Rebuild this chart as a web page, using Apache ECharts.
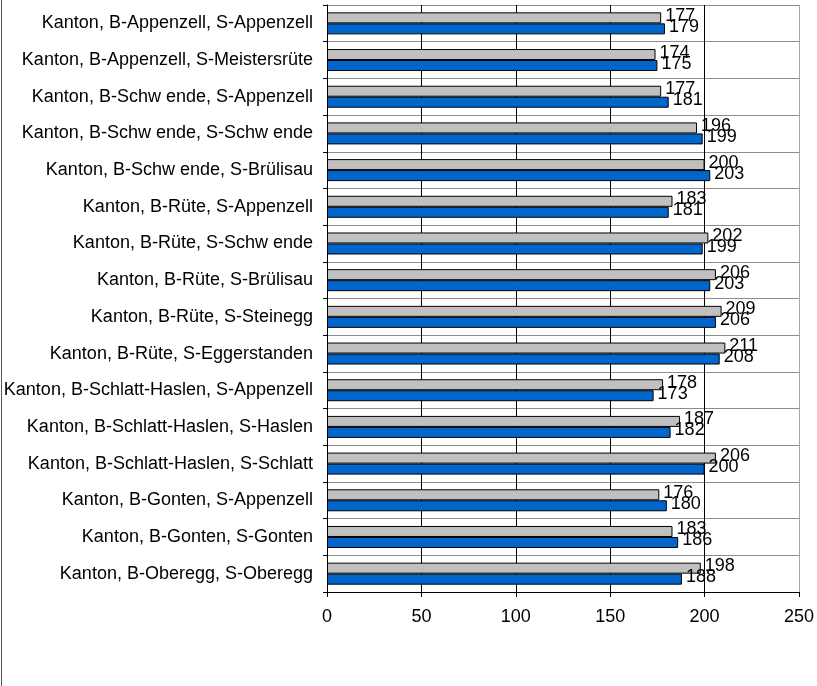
<!DOCTYPE html>
<html lang="en">
<head>
	<meta charset="UTF-8">
	<title>Kanton</title>
	<style>
		html, body { margin: 0; padding: 0; background: #fff; }
	</style>
</head>
<body>
	<div id="bar_one" style="width:817px;height:686px;"></div>
<script src="https://cdn.jsdelivr.net/npm/echarts@6/dist/echarts.min.js"></script>
<script>
	// Kategorien von oben nach unten
	var categories = [
		'Kanton, B-Appenzell, S-Appenzell',
		'Kanton, B-Appenzell, S-Meistersrüte',
		'Kanton, B-Schw ende, S-Appenzell',
		'Kanton, B-Schw ende, S-Schw ende',
		'Kanton, B-Schw ende, S-Brülisau',
		'Kanton, B-Rüte, S-Appenzell',
		'Kanton, B-Rüte, S-Schw ende',
		'Kanton, B-Rüte, S-Brülisau',
		'Kanton, B-Rüte, S-Steinegg',
		'Kanton, B-Rüte, S-Eggerstanden',
		'Kanton, B-Schlatt-Haslen, S-Appenzell',
		'Kanton, B-Schlatt-Haslen, S-Haslen',
		'Kanton, B-Schlatt-Haslen, S-Schlatt',
		'Kanton, B-Gonten, S-Appenzell',
		'Kanton, B-Gonten, S-Gonten',
		'Kanton, B-Oberegg, S-Oberegg'
	];
	var greyValues = [177, 174, 177, 196, 200, 183, 202, 206, 209, 211, 178, 187, 206, 176, 183, 198];
	var blueValues = [179, 175, 181, 199, 203, 181, 199, 203, 206, 208, 173, 182, 200, 180, 186, 188];
	var xTicks = [0, 50, 100, 150, 200, 250];

	var font = '"Liberation Sans", Arial, sans-serif';

	var myChart = echarts.init(document.getElementById('bar_one'));

	function barLabel() {
		return {
			show: true,
			position: 'right',
			distance: 4,
			offset: [0, -2],
			color: '#000',
			fontFamily: font,
			fontSize: 18
		};
	}

	var option = {
		animation: false,
		backgroundColor: '#fff',
		grid: {
			left: 327,
			right: 18,
			top: 5,
			bottom: 94,
			containLabel: false
		},
		xAxis: {
			type: 'value',
			min: xTicks[0],
			max: xTicks[xTicks.length - 1],
			interval: 50,
			axisLine: { show: true, lineStyle: { color: '#000', width: 1 } },
			axisTick: { show: true, length: 5, lineStyle: { color: '#000' } },
			axisLabel: {
				margin: 16,
				color: '#000',
				fontFamily: font,
				fontSize: 18
			},
			splitLine: {
				show: true,
				lineStyle: {
					// letzte Linie (250) ist der graue Rand
					color: ['#000', '#000', '#000', '#000', '#000', '#a6a6a6'],
					width: 1
				}
			}
		},
		yAxis: {
			type: 'category',
			data: categories,
			inverse: true,
			axisLine: { show: true, lineStyle: { color: '#000', width: 1 } },
			axisTick: { show: true, length: 4, lineStyle: { color: '#000' } },
			axisLabel: {
				margin: 14,
				color: '#000',
				fontFamily: font,
				fontSize: 18
			},
			splitLine: {
				show: true,
				lineStyle: { color: '#8c8c8c', width: 1 }
			}
		},
		series: [
			{
				name: 'grau',
				type: 'bar',
				data: greyValues,
				barWidth: 11,
				barGap: '0%',
				itemStyle: { color: '#c0c0c0', borderColor: '#000', borderWidth: 1 },
				label: barLabel()
			},
			{
				name: 'blau',
				type: 'bar',
				data: blueValues,
				barWidth: 11,
				barGap: '0%',
				itemStyle: { color: '#0066cc', borderColor: '#000', borderWidth: 1 },
				label: barLabel()
			}
		],
		graphic: [
			{
				type: 'line',
				shape: { x1: 1.5, y1: 0, x2: 1.5, y2: 686 },
				style: { stroke: '#555', lineWidth: 1 }
			}
		]
	};
	myChart.setOption(option);
</script>
</body>
</html>
